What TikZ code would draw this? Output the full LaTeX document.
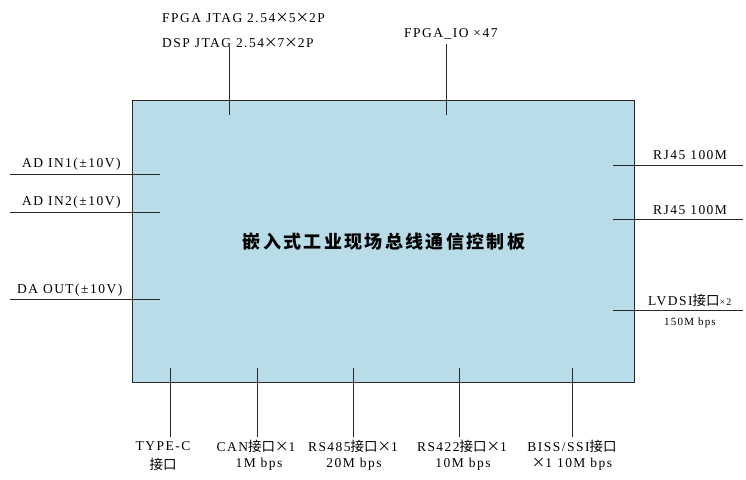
\documentclass[tikz,border=0pt]{standalone}
\usepackage{fontspec}
\setmainfont{Liberation Serif}[LetterSpace=11]
\newfontfamily\cjkfont{Noto Sans CJK SC}[LetterSpace=0]
\newfontfamily\titlefont{Noto Sans CJK SC}[LetterSpace=13]
\newcommand{\zh}[1]{{\cjkfont #1}}
\definecolor{boxfill}{RGB}{184,221,232}
\definecolor{linegray}{RGB}{40,40,40}
\begin{document}
\begin{tikzpicture}[x=1pt,y=-1pt,
  lbl/.style={inner sep=0pt,font=\fontsize{13.5}{15}\selectfont},
  small/.style={inner sep=0pt,font=\fontsize{11}{13}\selectfont},
  wire/.style={draw=linegray,line width=1pt}]
\useasboundingbox (0,0) rectangle (746,479);
\node[draw=linegray,line width=1pt,fill=boxfill,minimum width=502pt,minimum height=282pt,inner sep=0pt] (board) at (383,241) {};
\node[inner sep=0pt,font=\titlefont\bfseries\fontsize{18}{20}\selectfont] (title) at (384,242) {嵌入式工业现场总线通信控制板};
% top
\node[lbl,anchor=west] (jtag1) at (162,18) {FPGA JTAG 2.54\zh{×}5\zh{×}2P};
\node[lbl,anchor=west] (jtag2) at (162,43) {DSP JTAG 2.54\zh{×}7\zh{×}2P};
\node[lbl,anchor=west] (fio) at (404,34) {FPGA\_IO ×47};
\coordinate (t1a) at (229,47); \coordinate (t1b) at (229,115);
\coordinate (t2a) at (446,44); \coordinate (t2b) at (446,115);
\draw[wire] (t1a) -- (t1b);
\draw[wire] (t2a) -- (t2b);
% left
\node[lbl,anchor=west] (ad1) at (22,164) {AD IN1(±10V)};
\node[lbl,anchor=west] (ad2) at (22,202) {AD IN2(±10V)};
\node[lbl,anchor=west] (da) at (17,290) {DA OUT(±10V)};
\coordinate (l1a) at (10,174); \coordinate (l1b) at (160,174);
\coordinate (l2a) at (10,212); \coordinate (l2b) at (160,212);
\coordinate (l3a) at (10,299); \coordinate (l3b) at (160,299);
\draw[wire] (l1a) -- (l1b);
\draw[wire] (l2a) -- (l2b);
\draw[wire] (l3a) -- (l3b);
% right
\node[lbl,anchor=west] (rj1) at (653,155) {RJ45 100M};
\node[lbl,anchor=west] (rj2) at (653,210) {RJ45 100M};
\node[lbl,anchor=west] (lv) at (648,300) {LVDSI\zh{接口}\fontsize{10}{12}\selectfont×2};
\node[small,anchor=west] (lvs) at (664,323) {150M bps};
\coordinate (r1a) at (613,165); \coordinate (r1b) at (743,165);
\coordinate (r2a) at (613,219); \coordinate (r2b) at (743,219);
\coordinate (r3a) at (613,310); \coordinate (r3b) at (743,310);
\draw[wire] (r1a) -- (r1b);
\draw[wire] (r2a) -- (r2b);
\draw[wire] (r3a) -- (r3b);
% bottom
\node[lbl] (tc1) at (163,446) {TYPE-C};
\node[lbl] (tc2) at (163,464) {\zh{接口}};
\node[lbl] (can1) at (256,446) {CAN\zh{接口×}1};
\node[lbl] (can2) at (259,464) {1M bps};
\node[lbl] (r485a) at (353,446) {RS485\zh{接口×}1};
\node[lbl] (r485b) at (354,464) {20M bps};
\node[lbl] (r422a) at (462,446) {RS422\zh{接口×}1};
\node[lbl] (r422b) at (463,464) {10M bps};
\node[lbl] (bissa) at (572,446) {BISS/SSI\zh{接口}};
\node[lbl] (bissb) at (572,464) {\zh{×}1 10M bps};
\foreach \x/\n in {170/b1,257/b2,353/b3,459/b4,572/b5}{
  \coordinate (\n a) at (\x,368); \coordinate (\n b) at (\x,437);
  \draw[wire] (\n a) -- (\n b);
}
\end{tikzpicture}
\end{document}
